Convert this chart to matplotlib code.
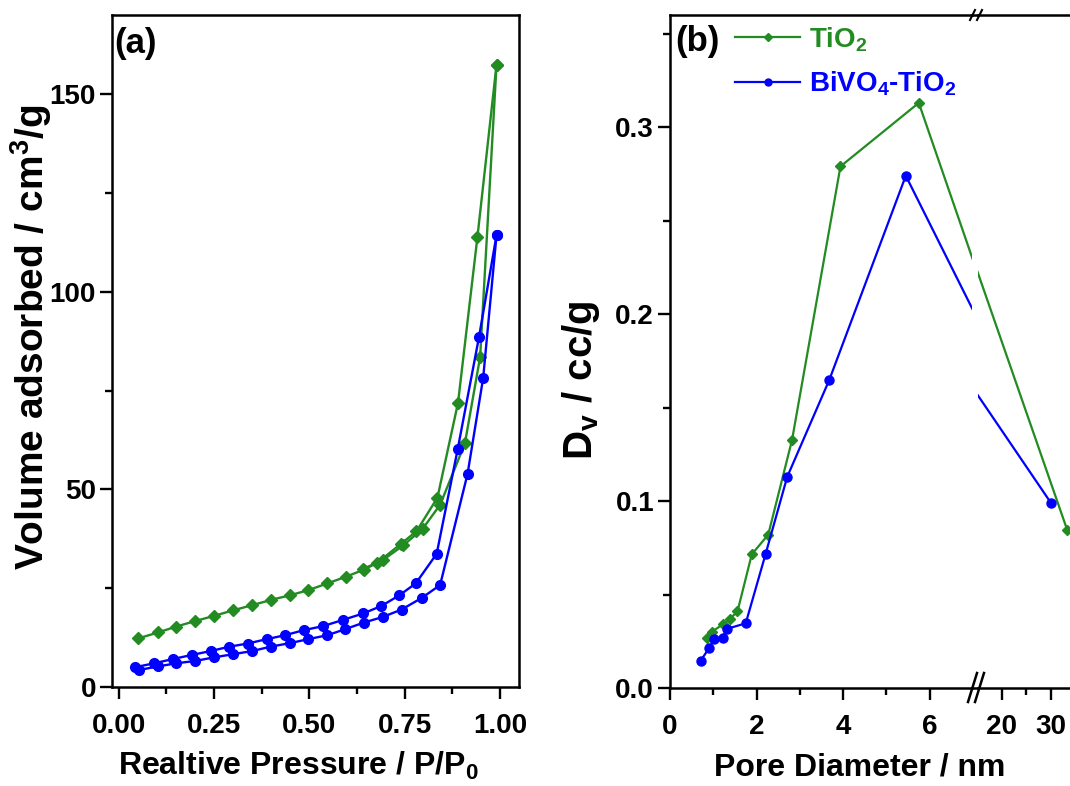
import matplotlib
matplotlib.use('Agg')
import matplotlib.pyplot as plt
from matplotlib.lines import Line2D
from matplotlib.ticker import MultipleLocator

plt.rcParams['font.family'] = ['Liberation Sans', 'DejaVu Sans']
plt.rcParams['font.weight'] = 'bold'
plt.rcParams['font.size'] = 20
plt.rcParams['mathtext.fontset'] = 'custom'
plt.rcParams['mathtext.rm'] = 'Liberation Sans:bold'
plt.rcParams['mathtext.bf'] = 'Liberation Sans:bold'
plt.rcParams['mathtext.it'] = 'Liberation Sans:bold'

GREEN = '#228B22'
BLUE = '#0000FF'

## (a) N2 isotherms
tio2_ads_p = [0.051, 0.103, 0.151, 0.201, 0.250, 0.300, 0.350, 0.398, 0.449, 0.497,
              0.547, 0.596, 0.643, 0.694, 0.746, 0.797, 0.843, 0.908, 0.948, 0.991]
tio2_ads_v = [12.3, 13.8, 15.3, 16.7, 18.0, 19.4, 20.7, 22.0, 23.2, 24.5,
              26.2, 27.9, 29.7, 32.2, 35.8, 40.0, 46.1, 61.6, 83.5, 157.4]
tio2_des_p = [0.991, 0.941, 0.890, 0.836, 0.781, 0.740, 0.678, 0.640]
tio2_des_v = [157.4, 113.9, 71.9, 47.9, 39.4, 36.2, 31.4, 29.9]

bv_ads_p = [0.053, 0.102, 0.151, 0.201, 0.250, 0.300, 0.350, 0.398, 0.449, 0.497,
            0.547, 0.593, 0.643, 0.692, 0.742, 0.796, 0.843, 0.915, 0.956, 0.991]
bv_ads_v = [4.3, 5.2, 6.0, 6.6, 7.5, 8.3, 9.1, 10.2, 11.1, 12.1,
            13.1, 14.6, 16.3, 17.7, 19.6, 22.6, 25.8, 53.9, 78.2, 114.3]
bv_des_p = [0.991, 0.945, 0.889, 0.834, 0.779, 0.736, 0.689, 0.641, 0.589, 0.536,
            0.486, 0.436, 0.388, 0.338, 0.290, 0.241, 0.191, 0.143, 0.093, 0.042]
bv_des_v = [114.3, 88.5, 60.1, 33.7, 26.2, 23.2, 20.5, 18.6, 17.0, 15.4,
            14.4, 13.1, 12.1, 11.0, 10.2, 9.1, 8.1, 7.1, 6.0, 5.0]

## (b) pore size distribution (points between 7 and 15 nm fall in the axis break)
tio2_d = [0.85, 0.96, 1.22, 1.39, 1.56, 1.89, 2.27, 2.82, 3.94, 5.75, 8.0, 14.0, 33.3]
tio2_dv = [0.027, 0.030, 0.034, 0.037, 0.041, 0.0715, 0.082, 0.1326, 0.279, 0.313, 0.162, 0.231, 0.0845]
bv_d = [0.71, 0.91, 1.02, 1.22, 1.31, 1.75, 2.21, 2.71, 3.68, 5.45, 7.33, 30.0]
bv_dv = [0.0146, 0.0216, 0.0262, 0.0269, 0.0316, 0.0346, 0.0717, 0.113, 0.1647, 0.274, 0.187, 0.099]

W, H = 1070, 786
fig = plt.figure(figsize=(W / 100, H / 100), dpi=100)


def px_axes(x0, x1, y0, y1, **kw):
    return fig.add_axes([x0 / W, 1 - y1 / H, (x1 - x0) / W, (y1 - y0) / H], **kw)


def style(ax):
    for s in ax.spines.values():
        s.set_linewidth(1.8)
    ax.tick_params(which='both', direction='out', width=1.7, top=False, right=False)
    ax.tick_params(which='major', length=8.5)
    ax.tick_params(which='minor', length=5)
    ax.tick_params(axis='x', which='major', pad=10)
    ax.tick_params(axis='y', which='major', pad=3)


# panel (a)
ax1 = px_axes(112, 519, 15, 687)
style(ax1)
kw = dict(lw=1.7)
ax1.plot(tio2_ads_p, tio2_ads_v, color=GREEN, marker='D', ms=6.5, **kw)
ax1.plot(tio2_des_p, tio2_des_v, color=GREEN, marker='D', ms=6.5, **kw)
ax1.plot(bv_ads_p, bv_ads_v, color=BLUE, marker='o', ms=7, **kw)
ax1.plot(bv_des_p, bv_des_v, color=BLUE, marker='o', ms=7, **kw)
ax1.set_xlim(-0.018, 1.05)
ax1.set_ylim(0, 170)
ax1.xaxis.set_major_locator(MultipleLocator(0.25))
ax1.xaxis.set_minor_locator(MultipleLocator(0.125))
ax1.yaxis.set_major_locator(MultipleLocator(50))
ax1.yaxis.set_minor_locator(MultipleLocator(25))
ax1.xaxis.set_major_formatter(lambda v, p: f'{v:.2f}')
ax1.text(0.006, 0.982, '(a)', transform=ax1.transAxes, ha='left', va='top', fontsize=25)
fig.text(298 / W, 1 - 766 / H, r'Realtive Pressure / P/P$_\mathbf{0}$', ha='center', va='center', fontsize=23)
fig.text(31 / W, 1 - 337 / H, r'Volume adsorbed / cm$^\mathbf{3}$/g', rotation=90, ha='center', va='center', fontsize=28)

# panel (b), broken x axis
ax2 = px_axes(670, 972, 15, 688)
ax3 = px_axes(978, 1100, 15, 688, sharey=ax2)
style(ax2)
style(ax3)
for ax in (ax2, ax3):
    ax.plot(tio2_d, tio2_dv, color=GREEN, marker='D', ms=5.5, lw=1.6)
    ax.plot(bv_d, bv_dv, color=BLUE, marker='o', ms=6.5, lw=1.6)
ax2.spines['right'].set_visible(False)
ax3.spines['left'].set_visible(False)
ax3.spines['right'].set_visible(False)
ax3.tick_params(axis='y', which='both', left=False, labelleft=False)
ax2.set_xlim(0, 6.98)
ax3.set_xlim(15.2, 15.2 + 122 / 4.93)
ax2.set_ylim(0, 0.36)
ax2.xaxis.set_major_locator(MultipleLocator(2))
ax2.xaxis.set_minor_locator(MultipleLocator(1))
ax2.yaxis.set_major_locator(MultipleLocator(0.1))
ax2.yaxis.set_minor_locator(MultipleLocator(0.05))
ax3.xaxis.set_major_locator(MultipleLocator(10))
ax3.xaxis.set_minor_locator(MultipleLocator(5))
ax2.yaxis.set_major_formatter(lambda v, p: f'{v:.1f}')
ax2.text(0.018, 0.985, '(b)', transform=ax2.transAxes, ha='left', va='top', fontsize=25)
fig.text(860 / W, 1 - 768 / H, 'Pore Diameter / nm', ha='center', va='center', fontsize=23)
fig.text(581 / W, 1 - 380 / H, r'D$_\mathbf{v}$ / cc/g', rotation=90, ha='center', va='center', fontsize=29)

handles = [Line2D([], [], color=GREEN, marker='D', ms=4, lw=1.6),
           Line2D([], [], color=BLUE, marker='o', ms=5, lw=1.6)]
leg = ax2.legend(handles, [r'TiO$_\mathbf{2}$', r'BiVO$_\mathbf{4}$-TiO$_\mathbf{2}$'],
                 loc='upper left', bbox_to_anchor=(0.215, 0.985), frameon=False,
                 borderpad=0, borderaxespad=0, handlelength=2.35, handletextpad=0.3,
                 labelspacing=0.57)
leg.get_texts()[0].set_color(GREEN)
leg.get_texts()[1].set_color(BLUE)

# spine bridges and break marks
for y in (15, 688):
    fig.add_artist(Line2D([972 / W, 978 / W], [1 - y / H, 1 - y / H], color='k', lw=1.8))
for dx in (0, 7):
    fig.add_artist(Line2D([(968 + dx) / W, (977 + dx) / W], [1 - 702 / H, 1 - 673 / H], color='k', lw=1.8))
    fig.add_artist(Line2D([(970 + dx) / W, (975 + dx) / W], [1 - 20 / H, 1 - 10 / H], color='k', lw=1.5))

fig.savefig('out.png', dpi=100)
